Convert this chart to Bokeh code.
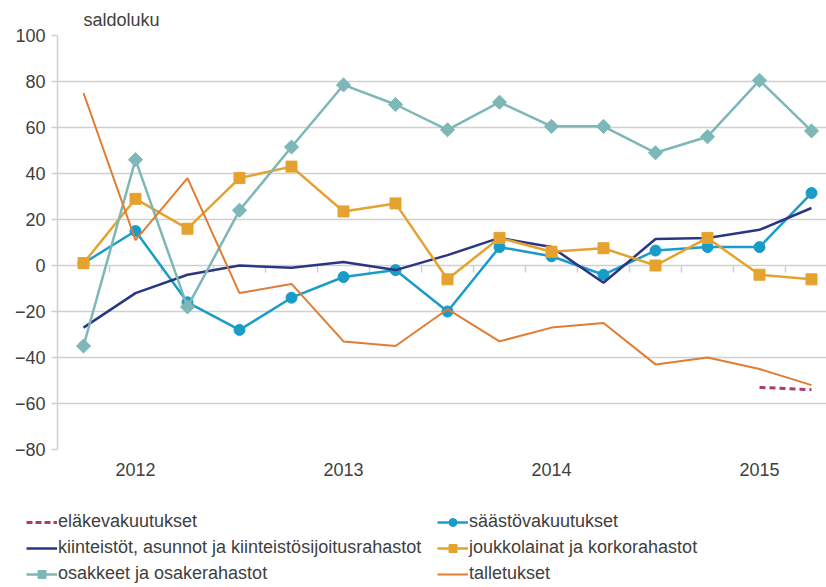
from bokeh.plotting import figure
from bokeh.models import FixedTicker, Legend, LegendItem, Range1d
from bokeh.embed import file_html
from bokeh.resources import INLINE

# --- data (quarterly observations, index 0..14) ---
periods = list(range(15))
year_labels = ["2012", "2013", "2014", "2015"]
year_positions = [1, 5, 9, 13]
y_ticks = [-80, -60, -40, -20, 0, 20, 40, 60, 80, 100]

elake_x = [13, 14]
elakevakuutukset = [-53, -54]
saastovakuutukset = [1, 15, -16, -28, -14, -5, -2, -20, 8, 4, -4, 6.5, 8, 8, 31.5]
kiinteistot = [-27, -12, -4, 0, -1, 1.5, -2, 4.5, 12, 8, -7.5, 11.5, 12, 15.5, 25]
joukkolainat = [1, 29, 16, 38, 43, 23.5, 27, -6, 12, 6, 7.5, 0, 12, -4, -6]
osakkeet = [-35, 46, -18, 24, 51.5, 78.5, 70, 59, 71, 60.5, 60.5, 49, 56, 80.5, 58.5]
talletukset = [75, 11, 38, -12, -8, -33, -35, -19, -33, -27, -25, -43, -40, -45, -52]

labels = ["eläkevakuutukset", "säästövakuutukset",
          "kiinteistöt, asunnot ja kiinteistösijoitusrahastot",
          "joukkolainat ja korkorahastot", "osakkeet ja osakerahastot", "talletukset"]

FONT = "Liberation Sans"
TXT = "#404040"
GRID = "#d0d0d0"

W, H_MAIN, H_LEG = 826, 490, 97
FL, FT, FB = 57, 35, 449
FH = FB - FT
FW = W - FL
px_per_cat = 52

p = figure(width=W, height=H_MAIN, output_backend="svg", toolbar_location=None,
           x_range=Range1d(-0.5, -0.5 + FW / px_per_cat), y_range=Range1d(-80, 100),
           min_border_left=FL, min_border_right=0, min_border_top=FT,
           min_border_bottom=H_MAIN - FB)
p.outline_line_color = None
p.background_fill_color = "white"

p.title.text = "saldoluku"
p.title.align = "left"
p.title.offset = 26
p.title.standoff = 11
p.title.text_font = FONT
p.title.text_font_size = "18px"
p.title.text_font_style = "normal"
p.title.text_color = TXT

# y axis
p.yaxis.ticker = FixedTicker(ticks=y_ticks)
p.yaxis.axis_line_color = GRID
p.yaxis.axis_line_width = 1.5
p.yaxis.major_tick_line_color = GRID
p.yaxis.major_tick_line_width = 1.5
p.yaxis.major_tick_out = 6
p.yaxis.major_tick_in = 0
p.yaxis.minor_tick_line_color = None
p.yaxis.major_label_standoff = 6
p.yaxis.major_label_text_font = FONT
p.yaxis.major_label_text_font_size = "18px"
p.yaxis.major_label_text_color = TXT

p.ygrid.ticker = FixedTicker(ticks=y_ticks)
p.ygrid.grid_line_color = GRID
p.ygrid.grid_line_width = 1.5
p.xgrid.grid_line_color = None

# x axis
p.xaxis.ticker = FixedTicker(ticks=year_positions)
p.xaxis.major_label_overrides = {pos: lab for pos, lab in zip(year_positions, year_labels)}
p.xaxis.axis_line_color = None
p.xaxis.major_tick_line_color = None
p.xaxis.minor_tick_line_color = None
p.xaxis.major_label_standoff = 7
p.xaxis.major_label_text_font = FONT
p.xaxis.major_label_text_font_size = "18px"
p.xaxis.major_label_text_color = TXT

# category tick marks hanging from the zero line
tick_pos = [k + 0.5 for k in periods[:-1]]
tick_len = 7 * 180 / FH
p.segment(x0=tick_pos, x1=tick_pos, y0=[0] * len(tick_pos), y1=[-tick_len] * len(tick_pos),
          line_color=GRID, line_width=1.5)

C_EL = "#b03a6e"
C_SA = "#1a9cc8"
C_KI = "#2b3683"
C_JO = "#e6a22e"
C_OS = "#7db7b8"
C_TA = "#e07d34"

styles = {
    "el": dict(line=dict(line_color=C_EL, line_width=3, line_dash="6 4"), marker=None),
    "sa": dict(line=dict(line_color=C_SA, line_width=2.5),
               marker=dict(marker="circle", size=11, fill_color=C_SA, line_color=C_SA)),
    "ki": dict(line=dict(line_color=C_KI, line_width=2.5), marker=None),
    "jo": dict(line=dict(line_color=C_JO, line_width=2.5),
               marker=dict(marker="square", size=11, fill_color=C_JO, line_color=C_JO)),
    "os": dict(line=dict(line_color=C_OS, line_width=2.5),
               marker=dict(marker="square", angle=0.785398, size=10, fill_color=C_OS, line_color=C_OS)),
    "ta": dict(line=dict(line_color=C_TA, line_width=2), marker=None),
}
legend_marker_size = {"sa": 8, "jo": 8, "os": 7}
series = [("el", elake_x, elakevakuutukset), ("sa", periods, saastovakuutukset),
          ("ki", periods, kiinteistot), ("jo", periods, joukkolainat),
          ("os", periods, osakkeet), ("ta", periods, talletukset)]

for key, xs, ys in series:
    st = styles[key]
    p.line(xs, ys, **st["line"])
    if st["marker"]:
        p.scatter(xs, ys, **st["marker"])

# --- legend panel (separate figure below the chart) ---
lf = figure(width=W, height=H_LEG, output_backend="svg", toolbar_location=None,
            x_range=Range1d(0, 1), y_range=Range1d(0, 1),
            min_border_left=0, min_border_right=0, min_border_top=0, min_border_bottom=0,
            x_axis_type=None, y_axis_type=None)
lf.outline_line_color = None
lf.xgrid.visible = False
lf.ygrid.visible = False

# hidden copies of the series: they only provide the legend swatches
legend_renderers = {}
for key, xs, ys in series:
    st = styles[key]
    line_kw = dict(st["line"])
    if key == "el":
        line_kw["line_dash"] = "6 3"
    rs = [lf.line(xs, ys, visible=False, **line_kw)]
    if st["marker"]:
        mk = dict(st["marker"])
        mk["size"] = legend_marker_size[key]
        rs.append(lf.scatter(xs, ys, visible=False, **mk))
    legend_renderers[key] = rs


def make_legend(items, loc):
    lg = Legend(items=items, location=loc, orientation="vertical",
                glyph_width=31, glyph_height=20, label_height=20, label_standoff=1,
                spacing=5, padding=0, margin=0,
                label_text_font=FONT, label_text_font_size="18px", label_text_color=TXT,
                background_fill_alpha=0, border_line_color=None,
                inactive_fill_alpha=0)
    lf.add_layout(lg, "center")


make_legend([LegendItem(label=labels[0], renderers=legend_renderers["el"]),
             LegendItem(label=labels[2], renderers=legend_renderers["ki"]),
             LegendItem(label=labels[4], renderers=legend_renderers["os"])], (26, 3))
make_legend([LegendItem(label=labels[1], renderers=legend_renderers["sa"]),
             LegendItem(label=labels[3], renderers=legend_renderers["jo"]),
             LegendItem(label=labels[5], renderers=legend_renderers["ta"])], (437, 3))

open("out.html", "w").write(file_html([p, lf], INLINE))
